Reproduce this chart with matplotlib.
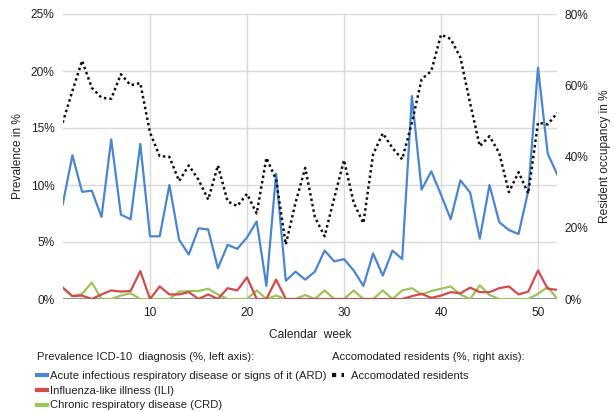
import matplotlib
matplotlib.use("Agg")
import matplotlib.pyplot as plt
from matplotlib.lines import Line2D

plt.rcParams['font.family'] = ['Liberation Sans', 'DejaVu Sans']

weeks = list(range(1, 53))

ard = [8.3, 12.6, 9.4, 9.5, 7.2, 14.0, 7.4, 7.0, 13.6, 5.5,
       5.5, 10.0, 5.2, 3.9, 6.2, 6.1, 2.7, 4.75, 4.4, 5.4,
       6.8, 1.15, 11.0, 1.6, 2.4, 1.7, 2.4, 4.25, 3.3, 3.5,
       2.5, 1.15, 4.0, 2.05, 4.25, 3.5, 17.8, 9.6, 11.2, 9.15,
       7.0, 10.4, 9.35, 5.3, 10.0, 6.75, 6.05, 5.7, 9.5, 20.3,
       12.75, 10.9]

ili = [1.0, 0.25, 0.3, 0.0, 0.4, 0.75, 0.65, 0.7, 2.45, 0.0,
       1.1, 0.4, 0.4, 0.6, 0.0, 0.4, 0.0, 0.95, 0.75, 1.9,
       0.0, 0.0, 1.7, 0.0, 0.0, 0.0, 0.0, 0.0, 0.0, 0.0,
       0.0, 0.0, 0.0, 0.0, 0.0, 0.0, 0.25, 0.45, 0.1, 0.3,
       0.6, 0.5, 1.0, 0.6, 0.6, 0.95, 1.1, 0.4, 0.65, 2.5,
       0.9, 0.8]

crd = [1.0, 0.25, 0.45, 1.45, 0.0, 0.0, 0.3, 0.5, 0.0, 0.0,
       0.0, 0.0, 0.65, 0.7, 0.7, 0.9, 0.4, 0.0, 0.0, 0.0,
       0.75, 0.0, 0.3, 0.0, 0.0, 0.35, 0.0, 0.75, 0.0, 0.0,
       0.75, 0.0, 0.0, 0.75, 0.0, 0.75, 0.95, 0.4, 0.7, 0.9,
       1.1, 0.4, 0.0, 1.2, 0.35, 0.0, 0.0, 0.0, 0.0, 0.45,
       1.05, 0.0]

residents = [49.5, 58.4, 66.9, 59.3, 56.5, 56.2, 63.1, 60.0, 60.6, 46.7,
             40.1, 39.9, 33.1, 37.5, 33.5, 27.9, 37.5, 27.4, 26.1, 29.5,
             24.0, 39.6, 33.5, 15.3, 27.0, 36.8, 23.0, 17.6, 28.4, 39.0,
             27.0, 21.3, 40.6, 46.5, 42.4, 39.2, 49.5, 61.7, 64.0, 74.2,
             73.0, 67.8, 55.0, 42.9, 45.7, 41.0, 30.0, 35.6, 29.6, 49.5,
             49.0, 52.3]

left_ticks = [0, 5, 10, 15, 20, 25]
right_ticks = [0, 20, 40, 60, 80]
x_ticks = [10, 20, 30, 40, 50]

c_ard = "#4a86cf"
c_ili = "#d24b4b"
c_crd = "#9bc55a"
txt = "#222222"
grid_c = "#d9d9d9"
fs = 8.1

fig = plt.figure(figsize=(6.14, 4.12), dpi=100)
ax = fig.add_axes([62.7/614, 1-299/412, (557.4-62.7)/614, (299-14)/412])

ax.set_xlim(1, 52)
ax.set_ylim(0, 25)
ax.set_xticks(x_ticks)
ax.set_yticks(left_ticks)
ax.set_yticklabels([f"{v}%" for v in left_ticks])
ax.grid(True, color=grid_c, lw=1)
ax.set_axisbelow(True)
for s in ax.spines.values():
    s.set_visible(False)
ax.axhline(0, color="#888888", lw=1.3, zorder=1)
ax.tick_params(length=0, labelsize=8.6, colors=txt, pad=6)

ax.plot(weeks, crd, color=c_crd, lw=1.6, zorder=3)
ax.plot(weeks, ili, color=c_ili, lw=1.6, zorder=3)
ax.plot(weeks, ard, color=c_ard, lw=1.6, zorder=3)

ax.set_ylabel("Prevalence in %", fontsize=8.6, color=txt, labelpad=5)
ax.set_xlabel("Calendar  week", fontsize=8.6, color=txt, labelpad=7)

ax2 = ax.twinx()
ax2.set_ylim(0, 80)
ax2.set_yticks(right_ticks)
ax2.set_yticklabels([f"{v}%" for v in right_ticks])
for s in ax2.spines.values():
    s.set_visible(False)
ax2.tick_params(length=0, labelsize=8.6, colors=txt, pad=5)
ax2.plot(weeks, residents, color="#111111", lw=1.8, linestyle=(0, (1, 1.2)), zorder=4)
ax2.set_ylabel("Resident occupancy in %", fontsize=8.6, color=txt, labelpad=8)

fig.text(37/614, 1-357/412, "Prevalence ICD-10  diagnosis (%, left axis):",
         fontsize=fs, color=txt, ha="left", va="center")
fig.text(332/614, 1-357/412, "Accomodated residents (%, right axis):",
         fontsize=fs, color=txt, ha="left", va="center")

h_left = [Line2D([], [], color=c_ard, lw=3),
          Line2D([], [], color=c_ili, lw=3),
          Line2D([], [], color=c_crd, lw=3)]
l_left = ["Acute infectious respiratory disease or signs of it (ARD)",
          "Influenza-like illness (ILI)",
          "Chronic respiratory disease (CRD)"]
leg1 = fig.legend(h_left, l_left,
                  loc="upper left", bbox_to_anchor=(37/614, 1-371/412),
                  frameon=False, fontsize=fs,
                  handlelength=0.85, handletextpad=0.3, labelspacing=0.42,
                  borderpad=0, borderaxespad=0)
for t in leg1.get_texts():
    t.set_color(txt)

h_right = [Line2D([], [], color="#111111", lw=3, linestyle=(0, (1, 1.3)))]
leg2 = fig.legend(h_right, ["Accomodated residents"],
                  loc="upper left", bbox_to_anchor=(332/614, 1-371/412),
                  frameon=False, fontsize=fs,
                  handlelength=1.1, handletextpad=0.6, labelspacing=0.42,
                  borderpad=0, borderaxespad=0)
for t in leg2.get_texts():
    t.set_color(txt)

fig.savefig("out.png", dpi=100)
